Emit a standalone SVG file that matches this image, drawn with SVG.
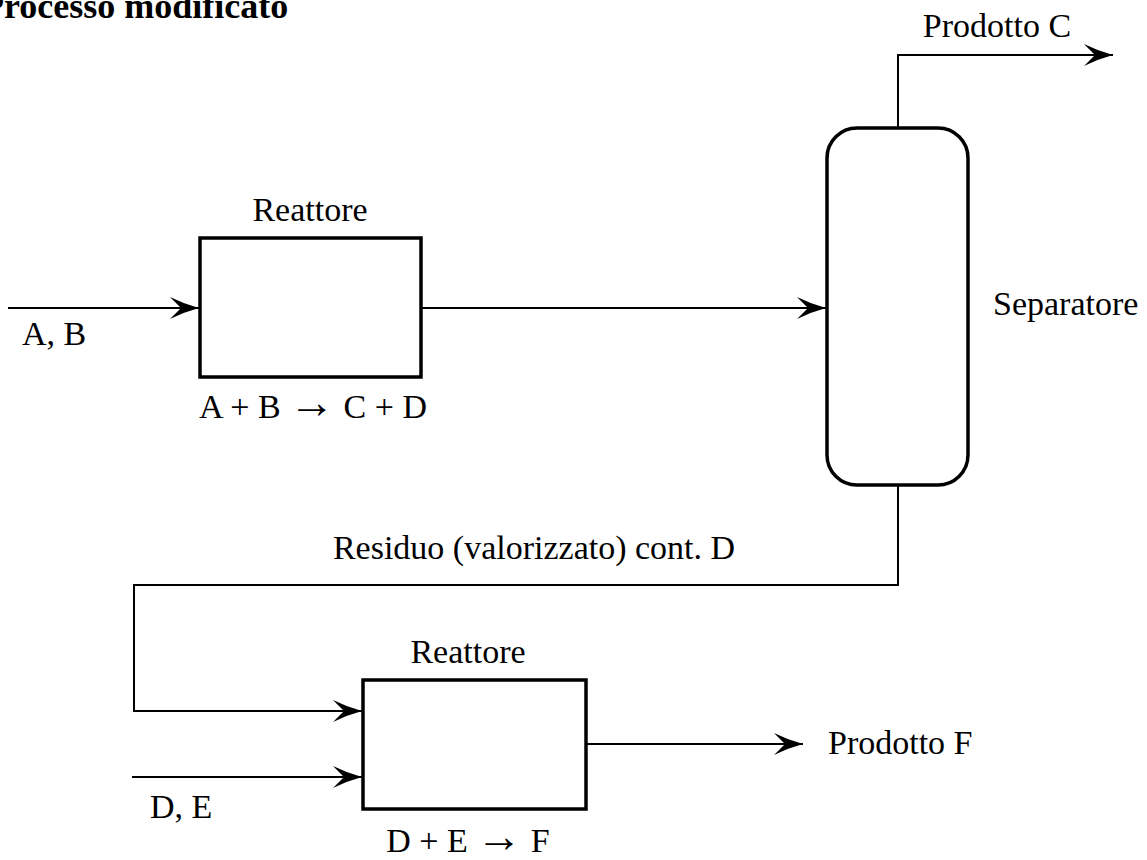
<svg xmlns="http://www.w3.org/2000/svg" width="1147" height="860" viewBox="0 0 1147 860">
  <style>
    text { font-family: "Liberation Serif", "Times New Roman", serif; font-size: 34px; fill: #000; }
    .title { font-weight: bold; font-size: 36px; }
    .sym { font-size: 46px; }
    .unit { fill: #fff; stroke: #000; stroke-width: 3.5; }
    .flow { fill: none; stroke: #000; stroke-width: 2; }
  </style>
  <defs>
    <marker id="arrow" markerUnits="userSpaceOnUse" markerWidth="34" markerHeight="26" refX="0" refY="0" viewBox="-31 -13 34 26" orient="auto" overflow="visible">
      <path d="M0,0 Q-15,-4 -29,-11 L-18,0 L-29,11 Q-15,4 0,0 Z" fill="#000"/>
    </marker>
  </defs>
  <rect width="1147" height="860" fill="#fff"/>

  <text class="title" x="-18" y="18">Processo modificato</text>

  <!-- process streams -->
  <g id="connectors">
    <path class="flow" d="M8,308 H199" marker-end="url(#arrow)"/>
    <path class="flow" d="M421,308 H826" marker-end="url(#arrow)"/>
    <path class="flow" d="M898,128 V55 H1113" marker-end="url(#arrow)"/>
    <path class="flow" d="M898,485 V585 H134 V711 H362" marker-end="url(#arrow)"/>
    <path class="flow" d="M132,777 H362" marker-end="url(#arrow)"/>
    <path class="flow" d="M586,744 H803" marker-end="url(#arrow)"/>
  </g>

  <g id="feed-ab">
    <text x="22" y="345">A, B</text>
  </g>

  <g id="reactor-1">
    <rect class="unit" x="200" y="238" width="221" height="139"/>
    <text x="310" y="221" text-anchor="middle">Reattore</text>
    <text x="313" y="418" text-anchor="middle">A + B <tspan class="sym">→</tspan> C + D</text>
  </g>

  <g id="separator">
    <rect class="unit" x="827" y="128" width="141" height="357" rx="30" ry="30"/>
    <text x="993" y="315">Separatore</text>
  </g>

  <g id="product-c">
    <text x="997" y="37" text-anchor="middle">Prodotto C</text>
  </g>

  <g id="residue">
    <text x="534" y="559" text-anchor="middle">Residuo (valorizzato) cont. D</text>
  </g>

  <g id="feed-de">
    <text x="150" y="818">D, E</text>
  </g>

  <g id="reactor-2">
    <rect class="unit" x="363" y="680" width="223" height="129"/>
    <text x="468" y="663" text-anchor="middle">Reattore</text>
    <text x="468" y="852" text-anchor="middle">D + E <tspan class="sym">→</tspan> F</text>
  </g>

  <g id="product-f">
    <text x="828" y="754">Prodotto F</text>
  </g>
</svg>
